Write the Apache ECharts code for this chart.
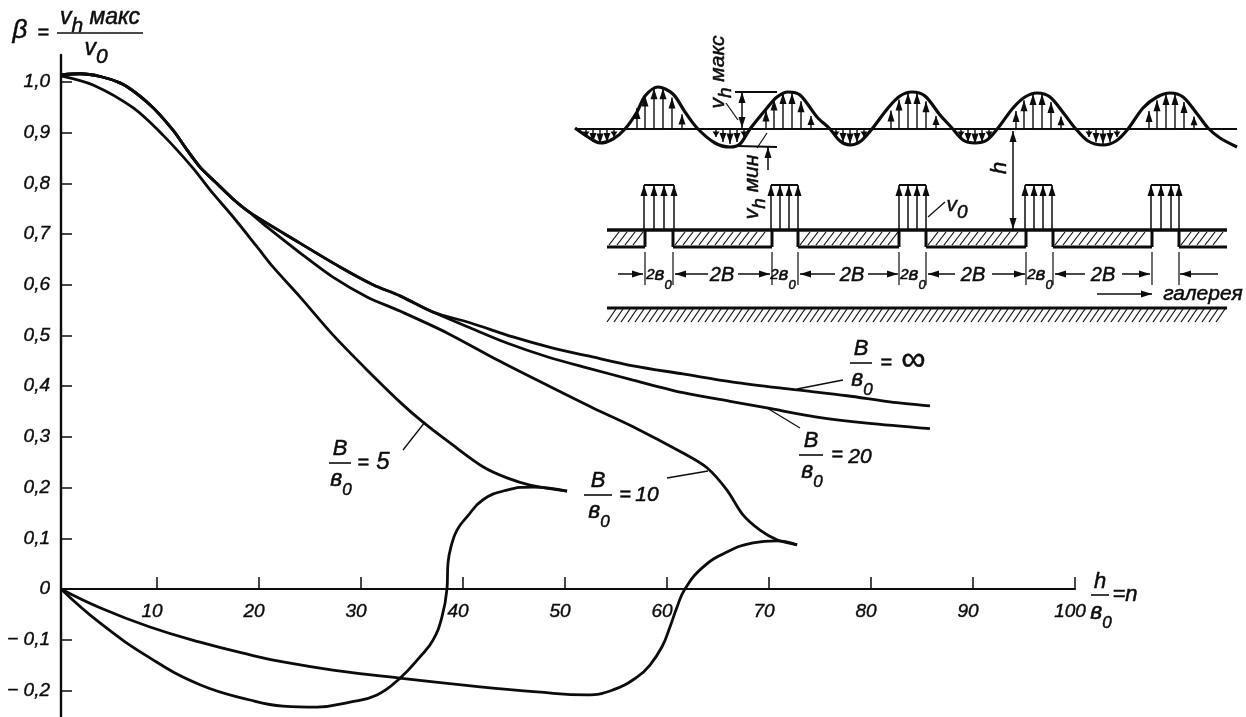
<!DOCTYPE html>
<html><head><meta charset="utf-8">
<style>html,body{margin:0;padding:0;background:#fff}#c{width:1246px;height:717px}</style>
<script src="https://cdn.jsdelivr.net/npm/echarts@6/dist/echarts.min.js"></script>
</head><body><div id="c"></div>
<script>
// ---- tick labels ----
const xTicks=[10,20,30,40,50,60,70,80,90,100];
const yTicks=[-0.2,-0.1,0.1,0.2,0.3,0.4,0.5,0.6,0.7,0.8,0.9,1.0];
const yLabels=[-0.2,-0.1,0,0.1,0.2,0.3,0.4,0.5,0.6,0.7,0.8,0.9,1.0];
// ---- curves, [h/b0, beta] ----
const shared=[[0.59,1.014],[2.45,1.016],[6.37,0.998],[9.31,0.955],[11.57,0.905],[12.94,0.866],[14.22,0.832],[15.69,0.803],[17.45,0.769],[19.12,0.742]];
const betaInf=[[24.02,0.682],[27.94,0.635],[31.18,0.600],[33.82,0.578],[37.06,0.546],[40.69,0.525],[44.9,0.497],[48.82,0.475],[52.16,0.460],[56.67,0.440],[61.57,0.424],[66.47,0.408],[72.06,0.394],[77.65,0.381],[81.86,0.369],[85.78,0.361]];
const beta20=[[24.02,0.682],[27.94,0.635],[31.18,0.600],[33.82,0.578],[37.06,0.546],[40.69,0.515],[44.31,0.485],[48.24,0.458],[52.16,0.436],[56.67,0.412],[61.57,0.387],[66.47,0.369],[69.8,0.357],[74.71,0.339],[79.61,0.327],[85.78,0.316]];
const beta10=[[20.78,0.714],[24.02,0.663],[27.25,0.615],[30.59,0.576],[33.82,0.548],[38.43,0.505],[43.33,0.452],[48.24,0.402],[52.75,0.357],[56.67,0.320],[61.57,0.268],[63.92,0.239],[65.88,0.195],[67.45,0.146],[69.12,0.116],[70.78,0.097],[72.75,0.087]];
const beta5=[[0.59,1.012],[3.73,0.994],[7.65,0.949],[10.59,0.895],[13.53,0.830],[15.2,0.787],[17.45,0.734],[19.8,0.675],[21.37,0.635],[24.02,0.576],[27.25,0.501],[30.59,0.432],[34.12,0.363],[36.08,0.329],[38.73,0.288],[41.96,0.241],[44.31,0.219],[46.57,0.205],[50.2,0.193]];
const min5=[[0.59,0],[4.41,-0.067],[9.31,-0.136],[14.22,-0.189],[19.12,-0.219],[22.35,-0.231],[25.69,-0.233],[28.92,-0.223],[31.57,-0.209],[33.82,-0.176],[35.78,-0.134],[37.06,-0.101],[37.94,-0.055],[38.43,0],[38.53,0.051],[38.82,0.083],[39.41,0.116],[40.39,0.142],[41.96,0.176],[44.31,0.195],[46.86,0.201],[50.2,0.193]];
const min10=[[0.59,0],[4.41,-0.037],[9.31,-0.075],[14.22,-0.105],[19.12,-0.130],[22.35,-0.144],[27.25,-0.160],[33.82,-0.176],[41.67,-0.193],[47.25,-0.203],[52.16,-0.209],[54.71,-0.199],[57.06,-0.174],[58.33,-0.150],[59.51,-0.114],[60.29,-0.075],[60.98,-0.036],[61.76,0],[63.53,0.043],[65.88,0.073],[68.43,0.091],[70.78,0.095],[72.75,0.087]];
// ---- inset schematic, in its own units ----
const wave=[[5,202],[18,193],[30,187],[43,191],[55,201],[67,218],[75,234],[88,243],[103,236],[115,218],[127,202],[145,187],[160,183],[170,186],[180,201],[197,222],[207,233],[218,238],[230,235],[247,213],[260,201],[270,189],[280,185],[291,189],[302,201],[318,222],[330,234],[342,238],[355,234],[370,215],[382,202],[393,190],[405,187],[417,190],[428,202],[443,222],[455,233],[467,237],[480,233],[495,215],[505,202],[518,189],[533,185],[546,189],[558,201],[573,222],[587,233],[600,237],[613,233],[628,215],[638,202],[650,192],[667,183]];
const crest=[[88,42],[217,37],[342,37],[467,36],[600,36]];
const crestOffset=[[-21,.5],[-13,.8],[-4,.97],[5,.97],[14,.75],[24,.35]];
const trough=[30,160,280,405,533];
const troughOffset=[[-14,8],[-7,13],[0,15],[7,13],[14,8]];
const wallParts=[[37,75],[103,202],[228,329],[356,456],[483,582],[609,657]];
const slotEdges=[75,103,202,228,329,356,456,483,582,609];
const jetArrows=[[74,84,94,104],[201,210,219,228],[329,338,347,356],[455,464,473,482],[581,591,601,609]];
const dimArrows=[[48,73],[138,105],[168,200],[265,230],[298,328],[385,358],[422,455],[515,485],[552,580],[648,610]];
// x1,y1,x2,y2,width,heads (0 none,1 end,2 both)
const segs=[
 [5,201,667,201,2,0],[37,100,657,100,3.5,0],[37,22,657,22,3,0],
 [165,238,207,238,2,0],[172,202,172,238,1.5,2],[156,227,168,210,1.2,0],
 [167,184,207,183,2,0],[198,160,198,183,1.5,1],[197,197,187,182,1.2,0],
 [527,36,582,36,1.5,1],[443,199,443,101,1.5,2],[358,113,375,128,1.2,0]
];
wallParts.forEach(([a,b])=>{
  segs.push([a,83,b,83,3,0]);
  for(let x=a+2;x+11<=b;x+=8) segs.push([x,85,x+10,98,1.2,0]);
});
for(let x=37;x<650;x+=7) segs.push([x,8,x+9,21,1.2,0]);
slotEdges.forEach(x=>{segs.push([x,83,x,100,3,0]);segs.push([x,45,x,78,1.2,0]);});
jetArrows.forEach(a=>{
  a.forEach(x=>segs.push([x,100,x,145,1.5,1]));
  segs.push([a[0],145,a[3],145,2,0]);
});
dimArrows.forEach(([a,b])=>segs.push([a,56,b,56,1.5,1]));
crest.forEach(([c,amp])=>crestOffset.forEach(([o,f])=>segs.push([c+o,201,c+o,201+amp*f,1.4,1])));
trough.forEach(c=>troughOffset.forEach(([o,d])=>segs.push([c+o,201,c+o,201-d,1.4,1])));

const ink='#0c0c0c', FONT='"Liberation Sans", sans-serif';
function renderSeg(params,api){
  const p=api.coord([api.value(0),api.value(1)]), q=api.coord([api.value(2),api.value(3)]);
  const w=api.value(4), heads=api.value(5);
  const kids=[{type:'line',shape:{x1:p[0],y1:p[1],x2:q[0],y2:q[1]},style:{stroke:ink,lineWidth:w,lineCap:'butt'}}];
  const L=Math.hypot(q[0]-p[0],q[1]-p[1])||1, ux=(q[0]-p[0])/L, uy=(q[1]-p[1])/L;
  const hl=Math.min(11,L*0.7), hw=3.5;
  const head=(t,dx,dy)=>kids.push({type:'polygon',shape:{points:[[t[0],t[1]],[t[0]-dx*hl-dy*hw,t[1]-dy*hl+dx*hw],[t[0]-dx*hl+dy*hw,t[1]-dy*hl-dx*hw]]},style:{fill:ink}});
  if(heads>=1) head(q,ux,uy);
  if(heads>=2) head(p,-ux,-uy);
  return {type:'group',children:kids};
}
const curve=(name,data,sm)=>({name,type:'line',xAxisIndex:0,yAxisIndex:0,data,smooth:sm||0.3,showSymbol:false,symbol:'none',clip:false,animation:false,silent:true,lineStyle:{color:ink,width:2.8}});

const subRich=size=>({
  s:{font:`italic ${size}px ${FONT}`,fill:ink,stroke:ink,lineWidth:0.5,verticalAlign:'bottom',padding:[0,0,-7,0]},
  b:{font:`italic ${size+6}px ${FONT}`,fill:ink,stroke:ink,lineWidth:0.5}
});
function txt(x,y,text,size,rot,align){
  return {type:'text',x,y,rotation:rot||0,silent:true,z:20,style:{text,fill:ink,stroke:ink,lineWidth:0.5,font:`italic ${size||20}px ${FONT}`,align:align||'center',verticalAlign:'middle',rich:subRich((size||20)-2)}};
}
const ln=(x1,y1,x2,y2,w)=>({type:'line',silent:true,z:20,shape:{x1,y1,x2,y2},style:{stroke:ink,lineWidth:w||1.3}});
function frac(cx,y,half,topT,botT,topDy,botDy){
  return [ln(cx-half,y,cx+half,y,1.6),txt(cx,y-(topDy||14),topT,22),txt(cx+1,y+(botDy||17),botT,19)];
}
const B0='{b|в}{s|0}';
const graphics=[
 txt(20,31,'β',26),txt(43,33,'=',20),ln(57,33,143,33,1.6),txt(100,18,'v{s|h} макс',23),txt(96,49,'v{s|0}',23),
 ...frac(1100,595,9,'h',B0,13,18),txt(1125,595,'=n',22),
 ...frac(340,463,11,'B',B0),txt(363,463,'=',20),txt(383,462,'5',24),ln(403,450,425,422),
 ...frac(598,495,14,'B',B0),txt(625,495,'=',20),txt(647,495,'10',21),ln(667,478,708,471),
 ...frac(811,455,12,'B',B0),txt(837,455,'=',20),txt(860,457,'20',21),ln(800,428,767,408),
 ...frac(861,363,11,'B',B0),txt(886,363,'=',20),txt(913,361,'∞',34),ln(843,380,797,389),
 txt(718,72,'v{s|h} макс',21,Math.PI/2),txt(752,187,'v{s|h} мин',21,Math.PI/2),
 txt(1000,168,'h',22,Math.PI/2),txt(957,205,'v{s|0}',21),
 txt(1203,294,'галерея',21),
 ...[659,783,913,1040].map(x=>txt(x,275,'2{b|в}{s|0}',15)),
 ...[722,852,973,1103].map(x=>txt(x,275,'2B',20))
];

const chart=echarts.init(document.getElementById('c'),null,{renderer:'canvas'});
const axisFont={fontFamily:FONT,fontStyle:'italic',fontSize:19,color:ink,textBorderColor:ink,textBorderWidth:0.4};
chart.setOption({
  backgroundColor:'#fff',animation:false,
  grid:[{left:61,top:55,width:1014,height:662,outerBoundsMode:'none'},{left:570,top:30,width:670,height:300,outerBoundsMode:'none'}],
  xAxis:[
   {type:'value',gridIndex:0,min:0.59,max:100,position:'bottom',offset:-128,splitLine:{show:false},
    axisLine:{onZero:false,lineStyle:{color:ink,width:2}},
    axisTick:{inside:true,length:12,lineStyle:{color:ink,width:1.5},customValues:xTicks},
    axisLabel:{...axisFont,margin:13,padding:[0,10,0,0],customValues:xTicks,formatter:v=>String(v)}},
   {type:'value',gridIndex:1,min:0,max:670,show:false}],
  yAxis:[
   {type:'value',gridIndex:0,min:-0.2525,max:1.053,position:'left',splitLine:{show:false},
    axisLine:{onZero:false,lineStyle:{color:ink,width:2.4}},
    axisTick:{inside:true,length:11,lineStyle:{color:ink,width:1.5},customValues:yTicks},
    axisLabel:{...axisFont,margin:11,customValues:yLabels,formatter:v=>v===0?'0':(v<0?'− ':'')+Math.abs(v).toFixed(1).replace('.',',')}},
   {type:'value',gridIndex:1,min:0,max:300,show:false}],
  series:[
   curve('B/в0=∞',shared.concat(betaInf)),
   curve('B/в0=20',shared.concat(beta20)),
   curve('B/в0=10',shared.concat(beta10)),
   curve('B/в0=5',beta5),
   curve('min B/в0=5',min5,0.45),
   curve('min B/в0=10',min10,0.45),
   {name:'wave',type:'line',xAxisIndex:1,yAxisIndex:1,data:wave,smooth:0.3,showSymbol:false,symbol:'none',animation:false,silent:true,lineStyle:{color:ink,width:3.2}},
   {name:'schematic',type:'custom',xAxisIndex:1,yAxisIndex:1,coordinateSystem:'cartesian2d',data:segs,encode:{x:[0,2],y:[1,3]},renderItem:renderSeg,clip:false,animation:false,silent:true}
  ],
  graphic:graphics
});
</script></body></html>
